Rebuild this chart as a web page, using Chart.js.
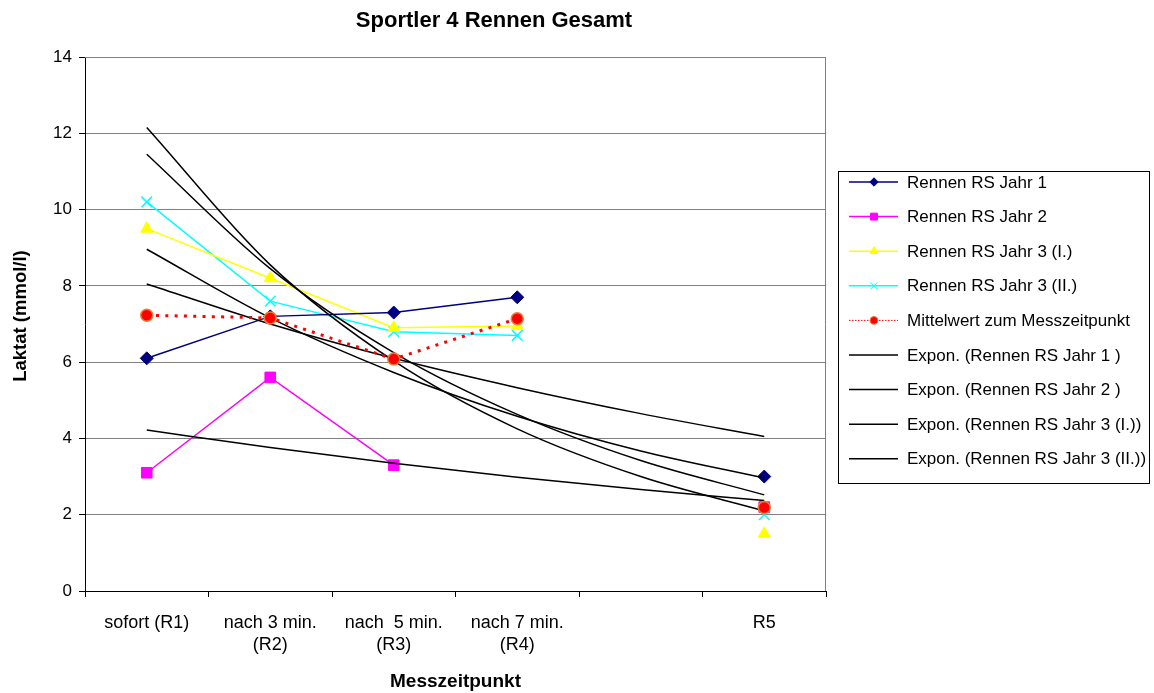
<!DOCTYPE html>
<html>
<head>
<meta charset="utf-8">
<script src="https://cdn.jsdelivr.net/npm/chart.js@4/dist/chart.umd.min.js"></script>
<style>
  body { margin: 0; background: #fff; }
  #wrap { width: 1154px; height: 693px; }
</style>
</head>
<body>
<div id="wrap"><canvas id="laktatChart" width="1154" height="693"></canvas></div>
<script>
// Messzeitpunkte (5. Kategorie bleibt leer)
const labels = ["sofort (R1)", ["nach 3 min.", "(R2)"], ["nach  5 min.", "(R3)"], ["nach 7 min.", "(R4)"], "", "R5"];

// Messwerte
const jahr1 = [6.1, 7.2, 7.3, 7.7, null, 3.0];
const jahr2 = [3.1, 5.6, 3.3, null, null, 2.2];
const jahr3a = [9.5, 8.2, 6.9, 6.95, null, 1.5];
const jahr3b = [10.2, 7.6, 6.8, 6.7, null, 2.0];
const mittel = [7.23, 7.16, 6.08, 7.14, null, 2.19];

// Trendlinien
const trendJahr1 = [8.05, 7.0, 6.1, 5.33, 4.65, 4.05];
const trendJahr2 = [4.22, 3.76, 3.35, 2.98, 2.66, 2.37];
const trendJahr3a = [12.15, 8.55, 6.03, 4.25, 3.0, 2.1];
const trendJahr3b = [11.45, 8.45, 6.25, 4.63, 3.42, 2.52];
const trendMittel = [8.96, 7.16, 5.73, 4.58, 3.67, 2.96];

const yTicks = [0, 2, 4, 6, 8, 10, 12, 14];

const FONT = "'Liberation Sans', Arial, sans-serif";

function serie(label, data, color, style, radius, extra) {
  return Object.assign({
    label: label,
    data: data,
    borderColor: color,
    backgroundColor: color,
    borderWidth: 1.5,
    pointStyle: style,
    pointRadius: radius,
    pointHoverRadius: radius,
    pointBorderWidth: 1,
    tension: 0,
    spanGaps: false,
    order: 2
  }, extra || {});
}

function trend(label, data, legend) {
  return {
    label: label,
    data: data,
    borderColor: "#000",
    backgroundColor: "#000",
    borderWidth: 1.5,
    pointRadius: 0,
    cubicInterpolationMode: "monotone",
    inLegend: legend,
    order: 1
  };
}

const datasets = [
  serie("Rennen RS Jahr 1", jahr1, "#000080", "rectRot", 6.5),
  serie("Rennen RS Jahr 2", jahr2, "#FF00FF", "rect", 7.5),
  serie("Rennen RS Jahr 3 (I.)", jahr3a, "#FFFF00", "triangle", 7),
  serie("Rennen RS Jahr 3 (II.)", jahr3b, "#00FFFF", "crossRot", 7.5, { pointBorderWidth: 1.5 }),
  serie("Mittelwert zum Messzeitpunkt", mittel, "#FF0000", "circle", 6, {
    borderWidth: 3, borderDash: [3, 6.3], pointBorderColor: "#E8803A", pointBorderWidth: 1.5, order: 0
  }),
  trend("Expon. (Rennen RS Jahr 1 )", trendJahr1, true),
  trend("Expon. (Rennen RS Jahr 2 )", trendJahr2, true),
  trend("Expon. (Rennen RS Jahr 3 (I.))", trendJahr3a, true),
  trend("Expon. (Rennen RS Jahr 3 (II.))", trendJahr3b, true),
  trend("Expon. (Mittelwert zum Messzeitpunkt)", trendMittel, false)
];

// Rahmen, Titel und Legende im Excel-Stil
const excelLook = {
  id: "excelLook",
  beforeDatasetsDraw(chart) {
    const { ctx, chartArea: a } = chart;
    ctx.save();
    ctx.strokeStyle = "#808080";
    ctx.lineWidth = 1;
    ctx.beginPath();
    ctx.moveTo(a.left, a.top + 0.5);
    ctx.lineTo(a.right - 0.5, a.top + 0.5);
    ctx.lineTo(a.right - 0.5, a.bottom);
    ctx.stroke();
    ctx.restore();
  },
  afterDraw(chart) {
    const ctx = chart.ctx;
    ctx.save();
    ctx.fillStyle = "#000";
    ctx.textAlign = "center";
    ctx.textBaseline = "middle";
    ctx.font = "bold 22px " + FONT;
    ctx.fillText("Sportler 4 Rennen Gesamt", 494, 21);

    // y-Achsentitel
    ctx.save();
    ctx.translate(21, 316);
    ctx.rotate(-Math.PI / 2);
    ctx.font = "bold 18.5px " + FONT;
    ctx.fillText("Laktat (mmol/l)", 0, 0);
    ctx.restore();

    // Legende
    ctx.strokeStyle = "#000";
    ctx.lineWidth = 1;
    ctx.strokeRect(838.5, 171.5, 311, 312);
    ctx.font = "17px " + FONT;
    ctx.textAlign = "left";
    let y = 182;
    chart.data.datasets.forEach(ds => {
      if (ds.inLegend === false) return;
      ctx.save();
      ctx.strokeStyle = ds.borderColor;
      ctx.lineWidth = ds.borderDash ? 1 : 1.5;
      ctx.setLineDash(ds.borderDash ? [1.5, 1.5] : []);
      ctx.beginPath();
      ctx.moveTo(849, y);
      ctx.lineTo(898, y);
      ctx.stroke();
      ctx.setLineDash([]);
      if (ds.pointRadius) {
        ctx.fillStyle = ds.backgroundColor;
        ctx.strokeStyle = ds.pointBorderColor || ds.borderColor;
        ctx.lineWidth = 1;
        Chart.helpers.drawPoint(ctx, { pointStyle: ds.pointStyle, radius: ds.pointRadius * 0.65, borderWidth: 1, rotation: 0 }, 874, y);
      }
      ctx.restore();
      ctx.fillStyle = "#000";
      ctx.fillText(ds.label, 907, y + 1);
      y += 34.6;
    });
    ctx.restore();
  }
};

const ctx = document.getElementById("laktatChart");

new Chart(ctx, {
  type: "line",
  data: { labels: labels, datasets: datasets },
  options: {
    responsive: false,
    animation: false,
    layout: { padding: { top: 57, right: 328, bottom: 0, left: 0 } },
    plugins: {
      legend: { display: false },
      title: { display: false },
      tooltip: { enabled: false }
    },
    scales: {
      x: {
        type: "category",
        offset: true,
        afterFit: s => { s.height = 102; },
        border: { color: "#000", width: 1 },
        grid: { offset: true, drawOnChartArea: false, drawTicks: true, tickLength: 6, color: "#000" },
        ticks: {
          color: "#000",
          padding: 15,
          maxRotation: 0,
          autoSkip: false,
          font: { family: FONT, size: 18, lineHeight: 1.22 }
        },
        title: {
          display: true,
          text: "Messzeitpunkt",
          color: "#000",
          padding: { top: 4, bottom: 0 },
          font: { family: FONT, size: 19, weight: "bold" }
        }
      },
      y: {
        min: 0,
        max: 14,
        afterFit: s => { s.width = 85; },
        afterBuildTicks: s => { s.ticks = yTicks.map(v => ({ value: v })); },
        border: { color: "#000", width: 1 },
        grid: { color: "#808080", lineWidth: 1, tickColor: "#000", tickLength: 6 },
        ticks: {
          color: "#000",
          padding: 7,
          font: { family: FONT, size: 17 }
        }
      }
    }
  },
  plugins: [excelLook]
});
</script>
</body>
</html>
